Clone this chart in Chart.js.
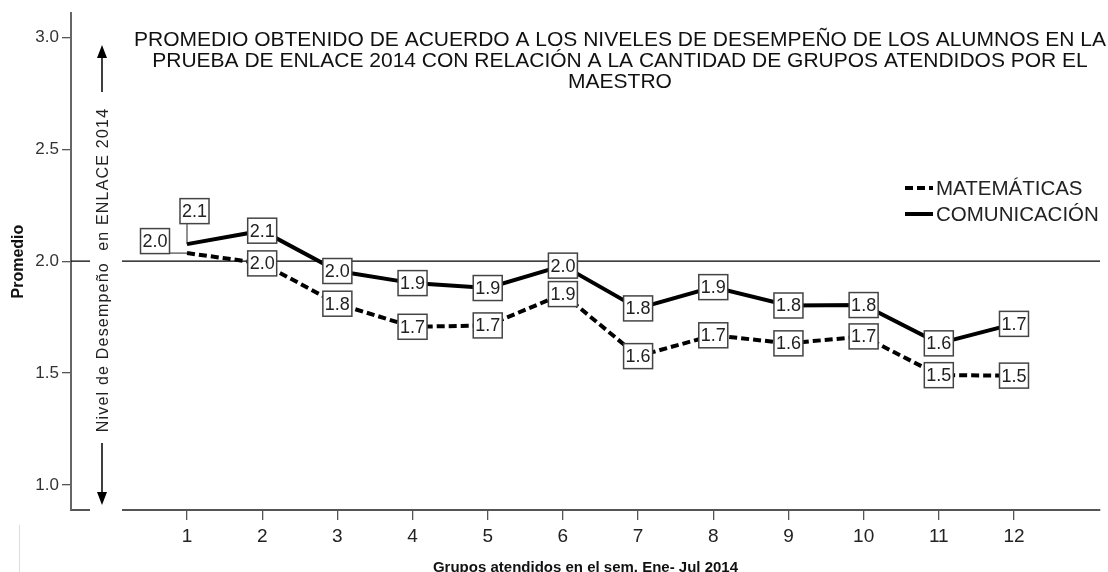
<!DOCTYPE html>
<html>
<head>
<meta charset="utf-8">
<script src="https://cdn.jsdelivr.net/npm/chart.js@4.4.0/dist/chart.umd.min.js"></script>
<style>
  html, body { margin: 0; padding: 0; background: #fff; overflow: hidden; }
  canvas { display: block; }
</style>
</head>
<body>
<canvas id="grafico_enlace" width="1108" height="572"></canvas>
<script>
// ----------------------- datos -----------------------//
var grupos = [1, 2, 3, 4, 5, 6, 7, 8, 9, 10, 11, 12];
var matematicas = [2.036, 1.99, 1.81, 1.707, 1.713, 1.853, 1.576, 1.669, 1.633, 1.664, 1.491, 1.489];
var comunicacion = [2.076, 2.136, 1.956, 1.902, 1.88, 1.98, 1.789, 1.884, 1.802, 1.804, 1.633, 1.72];
var ticksY = [1.0, 1.5, 2.0, 2.5, 3.0];
var lineaRef = 2.0;
var nombres = ['MATEMÁTICAS', 'COMUNICACIÓN'];
var titulo = [
    'PROMEDIO OBTENIDO DE ACUERDO A LOS NIVELES DE DESEMPEÑO DE LOS ALUMNOS EN LA',
    'PRUEBA DE ENLACE 2014 CON RELACIÓN A LA CANTIDAD DE GRUPOS ATENDIDOS POR EL',
    'MAESTRO'
];
var tituloEjeY = 'Promedio';
var tituloEjeX = 'Grupos atendidos en el sem. Ene- Jul 2014';
var textoNivel = 'Nivel de Desempeño  en ENLACE 2014';

var fuente = 'Arial, "Liberation Sans", sans-serif';

function puntos(valores) {
    return grupos.map(function (g, i) { return { x: g, y: valores[i] }; });
}

// desplazamiento de la etiqueta del primer punto (tiene linea guia)
var despMat = [[-32, -12]];
var despCom = [[7.5, -33]];

var dados = {
    datasets: [{
        label: nombres[0],
        data: puntos(matematicas),
        borderColor: '#000',
        borderWidth: 4,
        borderDash: [8, 4],
        pointRadius: 0,
        tension: 0,
        desplaza: despMat
    }, {
        label: nombres[1],
        data: puntos(comunicacion),
        borderColor: '#000',
        borderWidth: 4,
        pointRadius: 0,
        tension: 0,
        desplaza: despCom
    }]
};

// linea de referencia en 2.0
var referencia = {
    id: 'referencia',
    beforeDatasetsDraw: function (chart) {
        var ctx = chart.ctx, a = chart.chartArea;
        var y = chart.scales.y.getPixelForValue(lineaRef);
        ctx.save();
        ctx.strokeStyle = '#000';
        ctx.lineWidth = 1.2;
        ctx.beginPath();
        ctx.moveTo(a.left, y);
        ctx.lineTo(a.right, y);
        ctx.stroke();
        ctx.restore();
    }
};

// cajas con el valor de cada punto
var etiquetas = {
    id: 'etiquetas',
    afterDatasetsDraw: function (chart) {
        var ctx = chart.ctx;
        var w = 29, h = 25;
        ctx.save();
        ctx.font = '18px ' + fuente;
        ctx.textAlign = 'center';
        ctx.textBaseline = 'middle';
        chart.data.datasets.forEach(function (ds, i) {
            var meta = chart.getDatasetMeta(i);
            meta.data.forEach(function (pt, j) {
                var cx = pt.x, cy = pt.y;
                var d = ds.desplaza && ds.desplaza[j];
                if (d) {
                    cx += d[0];
                    cy += d[1];
                    var nx = Math.max(cx - w / 2, Math.min(pt.x, cx + w / 2));
                    var ny = Math.max(cy - h / 2, Math.min(pt.y, cy + h / 2));
                    ctx.strokeStyle = '#222';
                    ctx.lineWidth = 1;
                    ctx.beginPath();
                    ctx.moveTo(nx, ny);
                    ctx.lineTo(pt.x, pt.y);
                    ctx.stroke();
                }
                ctx.fillStyle = '#fff';
                ctx.fillRect(cx - w / 2, cy - h / 2, w, h);
                ctx.strokeStyle = '#444';
                ctx.lineWidth = 1.5;
                ctx.strokeRect(cx - w / 2, cy - h / 2, w, h);
                ctx.fillStyle = '#222';
                ctx.fillText(ds.data[j].y.toFixed(1), cx, cy + 1);
            });
        });
        ctx.restore();
    }
};

// titulo, leyenda y texto del nivel de desempeño
var adornos = {
    id: 'adornos',
    afterDraw: function (chart) {
        var ctx = chart.ctx, a = chart.chartArea;
        ctx.save();

        // hueco blanco para el texto vertical y flechas
        ctx.fillStyle = '#fff';
        ctx.fillRect(90, a.top, 32, a.bottom - a.top + 3);

        // flechas
        ctx.strokeStyle = '#000';
        ctx.fillStyle = '#000';
        ctx.lineWidth = 1.5;
        ctx.beginPath();
        ctx.moveTo(102, 92); ctx.lineTo(102, 56);
        ctx.moveTo(102, 443); ctx.lineTo(102, 494);
        ctx.stroke();
        ctx.beginPath();
        ctx.moveTo(102, 45); ctx.lineTo(97, 58); ctx.lineTo(107, 58); ctx.closePath();
        ctx.moveTo(102, 505); ctx.lineTo(97, 492); ctx.lineTo(107, 492); ctx.closePath();
        ctx.fill();

        // texto vertical
        ctx.save();
        ctx.translate(104, 270);
        ctx.rotate(-Math.PI / 2);
        ctx.font = '16px ' + fuente;
        ctx.letterSpacing = '1.2px';
        ctx.fillStyle = '#222';
        ctx.textAlign = 'center';
        ctx.textBaseline = 'middle';
        ctx.fillText(textoNivel, 0, 0);
        ctx.restore();

        // titulo
        ctx.font = '21px ' + fuente;
        ctx.fillStyle = '#111';
        ctx.textAlign = 'center';
        ctx.textBaseline = 'alphabetic';
        titulo.forEach(function (t, i) {
            ctx.fillText(t, 620, 46 + i * 21);
        });

        // leyenda
        ctx.font = '20.5px ' + fuente;
        ctx.textAlign = 'left';
        ctx.textBaseline = 'middle';
        chart.data.datasets.forEach(function (ds, i) {
            var y = 188 + i * 26;
            ctx.strokeStyle = '#000';
            ctx.lineWidth = 4;
            ctx.setLineDash(ds.borderDash || []);
            ctx.beginPath();
            ctx.moveTo(905, y);
            ctx.lineTo(933, y);
            ctx.stroke();
            ctx.setLineDash([]);
            ctx.fillStyle = '#222';
            ctx.fillText(ds.label, 936, y + 1);
        });

        // linea gris tenue abajo a la izquierda
        ctx.strokeStyle = '#ddd';
        ctx.lineWidth = 1;
        ctx.beginPath();
        ctx.moveTo(19.5, 525);
        ctx.lineTo(19.5, 572);
        ctx.stroke();

        ctx.restore();
    }
};

var opcoes = {
    responsive: false,
    animation: false,
    devicePixelRatio: 1,
    layout: { padding: { top: 12, right: 8, left: 0, bottom: 0 } },
    plugins: {
        legend: { display: false },
        tooltip: { enabled: false }
    },
    scales: {
        x: {
            type: 'linear',
            min: -0.543,
            max: 13.144,
            afterBuildTicks: function (s) {
                s.ticks = grupos.map(function (g) { return { value: g }; });
            },
            afterFit: function (s) { s.height = 62; },
            ticks: {
                color: '#222',
                font: { family: fuente, size: 19 },
                padding: 5
            },
            grid: { drawOnChartArea: false, tickLength: 10, color: '#555', lineWidth: 1.3 },
            border: { color: '#555', width: 2 },
            title: {
                display: true,
                text: tituloEjeX,
                color: '#111',
                font: { family: fuente, size: 15, weight: 'bold' },
                padding: { top: 0, bottom: -5 }
            }
        },
        y: {
            type: 'linear',
            min: 0.889,
            max: 3.107,
            afterBuildTicks: function (s) {
                s.ticks = ticksY.map(function (v) { return { value: v }; });
            },
            afterFit: function (s) { s.width = 71; },
            ticks: {
                color: '#333',
                font: { family: fuente, size: 17 },
                padding: 3,
                callback: function (v) { return Number(v).toFixed(1); }
            },
            grid: { drawOnChartArea: false, tickLength: 9, color: '#555', lineWidth: 1.3 },
            border: { color: '#666', width: 2 },
            title: {
                display: true,
                text: tituloEjeY,
                color: '#111',
                font: { family: fuente, size: 16, weight: 'bold' },
                padding: { top: 9, bottom: 0 }
            }
        }
    }
};

var ctx = document.getElementById('grafico_enlace').getContext('2d');
var grafico_enlace = new Chart(ctx, {
    type: 'line',
    data: dados,
    options: opcoes,
    plugins: [referencia, etiquetas, adornos]
});
</script>
</body>
</html>
